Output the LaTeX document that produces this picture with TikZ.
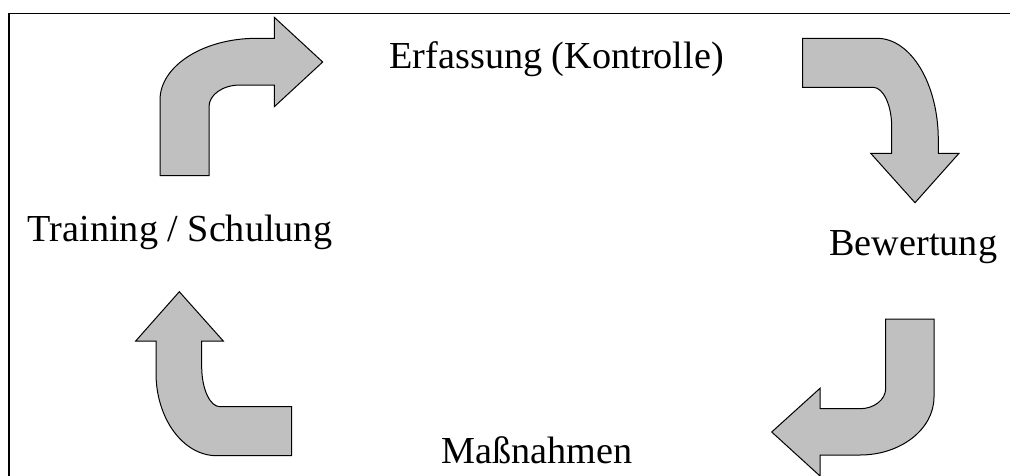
\documentclass[tikz,border=0pt]{standalone}
\usepackage{fontspec}
\setmainfont{Liberation Serif}
\definecolor{arrowgray}{HTML}{C0C0C0}
\begin{document}
\begin{tikzpicture}[x=1pt,y=-1pt,
  bigarrow/.style={fill=arrowgray,draw=black,line width=1pt,line join=miter},
  frameline/.style={draw=black,line width=1.5pt},
  label/.style={font=\fontsize{38.2}{44}\selectfont,inner sep=0pt,anchor=base}]
\useasboundingbox (0,0) rectangle (1010,475);
\fill[white] (0,0) rectangle (1010,475);
% frame (only top and left visible)
\draw[frameline] (9,476) -- (9,13.3) -- (1011,13.3);
% arrow 1: up then right
\draw[bigarrow] (160,175.7) -- (160,100)
  .. controls (160,65.9) and (203.3,38.3) .. (256.7,38.3)
  -- (274.3,38.3) -- (274.3,17.3) -- (322.7,62) -- (274.3,106.7) -- (274.3,85)
  -- (240,85) .. controls (222.9,85) and (209,94.7) .. (209,106.7)
  -- (209,175.7) -- cycle;
% arrow 2: right then down
\draw[bigarrow] (802.7,38.3) -- (877,38.3)
  .. controls (910.9,38.3) and (938.3,83.8) .. (938.3,140)
  -- (938.3,153.3) -- (959,153.3) -- (915,202.7) -- (870.7,153.3) -- (891.7,153.3)
  -- (891.7,127) .. controls (891.7,105.1) and (883.3,87.3) .. (873,87.3)
  -- (802.7,87.3) -- cycle;
% arrow 3: down then left
\draw[bigarrow] (934,319) -- (934,397)
  .. controls (934,429) and (900.9,455) .. (860,455)
  -- (820,455) -- (820,476) -- (771.7,432) -- (820,388.3) -- (820,408.7)
  -- (860,408.7) .. controls (874.2,408.7) and (885.7,399.6) .. (885.7,388.3)
  -- (885.7,319) -- cycle;
% arrow 4: left then up
\draw[bigarrow] (291.7,455.7) -- (216.7,455.7)
  .. controls (183.2,455.7) and (156,418.7) .. (156,373)
  -- (156,341) -- (135.7,341) -- (179.3,291.7) -- (223.3,341) -- (201.7,341)
  -- (201.7,366.7) .. controls (201.7,388.8) and (209.9,406.7) .. (220,406.7)
  -- (291.7,406.7) -- cycle;
% labels
\node[label] (erf) at (556.7,68.3) {Erfassung (Kontrolle)};
\node[label] (bew) at (913.3,255) {Bewertung};
\node[label] (mas) at (536.7,463.3) {Maßnahmen};
\node[label] (tra) at (180,241.7) {Training / Schulung};
\end{tikzpicture}
\end{document}
